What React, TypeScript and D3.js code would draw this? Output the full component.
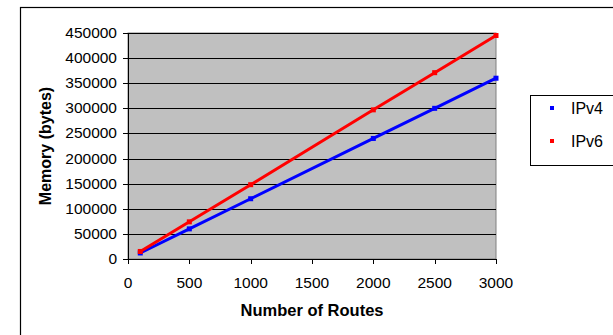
import React from "react";
import * as d3 from "d3";

const routes = [100, 500, 1000, 2000, 2500, 3000];
const ipv4 = [12000, 60000, 120000, 240000, 300000, 360000];
const ipv6 = [15000, 74000, 148000, 297000, 371000, 445000];
const xTicks = [0, 500, 1000, 1500, 2000, 2500, 3000];
const yTicks = [0, 50000, 100000, 150000, 200000, 250000, 300000, 350000, 400000, 450000];
const seriesNames = ["IPv4", "IPv6"];
const seriesColors = ["#0000ff", "#ff0000"];

export default function App() {
  const W = 613, H = 335;
  const left = 128, right = 496, top = 33, bottom = 259;
  const x = d3.scaleLinear().domain([0, 3000]).range([left, right]);
  const y = d3.scaleLinear().domain([0, 450000]).range([bottom, top]);
  const line = d3.line<number>().x((_, i) => x(routes[i])).y((d) => y(d));
  const font = "'Liberation Sans', Arial, sans-serif";
  const series = [ipv4, ipv6];

  return (
    <svg width={W} height={H} style={{ position: "absolute", left: 0, top: 0, background: "#fff" }}>
      <rect x={20.5} y={7.5} width={W} height={H} fill="#fff" stroke="#000" strokeWidth={1.2} />
      <rect x={left} y={top} width={right - left} height={bottom - top} fill="#c0c0c0" stroke="#808080" strokeWidth={1} />
      {yTicks.map((t) => (
        <g key={t}>
          {t > 0 && (
            <line x1={left} x2={right} y1={Math.round(y(t)) + 0.5} y2={Math.round(y(t)) + 0.5} stroke="#000" strokeWidth={1} />
          )}
          <line x1={left - 5} x2={left} y1={Math.round(y(t)) + 0.5} y2={Math.round(y(t)) + 0.5} stroke="#000" />
          <text x={117} y={y(t) + 5} textAnchor="end" fontFamily={font} fontSize={15.5} fill="#000">
            {t}
          </text>
        </g>
      ))}
      <line x1={left + 0.5} x2={left + 0.5} y1={top} y2={bottom} stroke="#000" />
      <line x1={left} x2={right} y1={bottom + 0.5} y2={bottom + 0.5} stroke="#000" />
      {xTicks.map((t) => (
        <g key={t}>
          <line x1={Math.round(x(t)) + 0.5} x2={Math.round(x(t)) + 0.5} y1={bottom} y2={bottom + 5} stroke="#000" />
          <text x={x(t)} y={288} textAnchor="middle" fontFamily={font} fontSize={15.5} fill="#000">
            {t}
          </text>
        </g>
      ))}
      {series.map((s, si) => (
        <g key={si}>
          <path d={line(s) || ""} fill="none" stroke={seriesColors[si]} strokeWidth={3} />
          {s.map((v, i) => (
            <rect key={i} x={x(routes[i]) - 2.5} y={y(v) - 2.5} width={5} height={5} fill={seriesColors[si]} />
          ))}
        </g>
      ))}
      <text
        transform={`translate(51,146) rotate(-90)`}
        textAnchor="middle"
        fontFamily={font}
        fontSize={16}
        fontWeight="bold"
        fill="#000"
      >
        Memory (bytes)
      </text>
      <text x={312} y={316} textAnchor="middle" fontFamily={font} fontSize={16.5} fontWeight="bold" fill="#000">
        Number of Routes
      </text>
      <rect x={530.5} y={95.5} width={100} height={70} fill="#fff" stroke="#000" strokeWidth={1} />
      {seriesNames.map((n, i) => (
        <g key={n}>
          <rect x={550} y={106 + i * 33} width={4} height={4} fill={seriesColors[i]} />
          <text x={571} y={114 + i * 33} fontFamily={font} fontSize={16} fill="#000">
            {n}
          </text>
        </g>
      ))}
    </svg>
  );
}
